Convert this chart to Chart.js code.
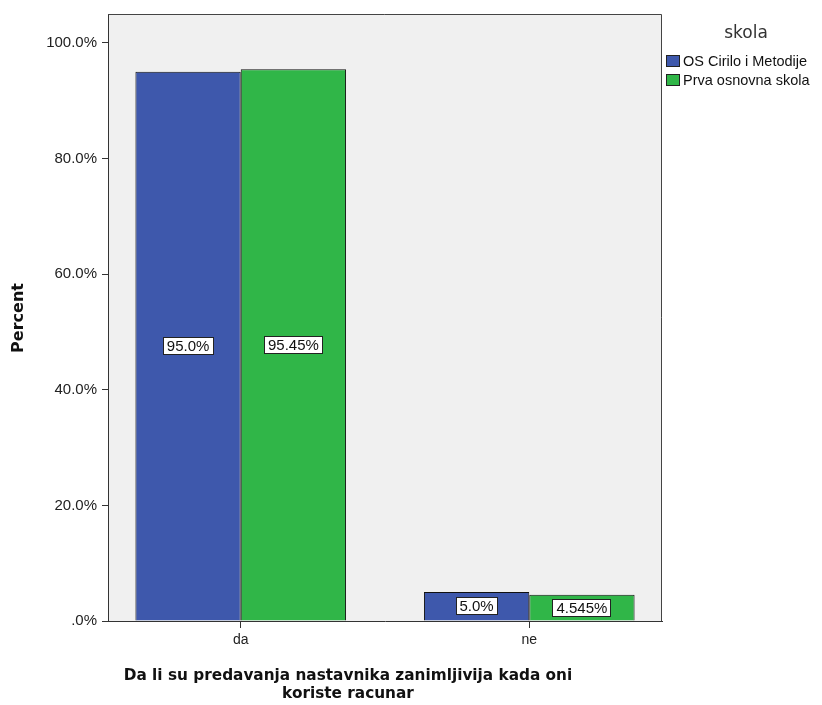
<!DOCTYPE html>
<html>
<head>
<meta charset="utf-8">
<title>skola</title>
<script src="https://cdn.jsdelivr.net/npm/chart.js@4"></script>
<style>
  body { margin: 0; background: #fff; }
  canvas { display: block; }
</style>
</head>
<body>
<canvas id="grafikCanvas" width="822" height="705"></canvas>
<script>
const odgovori = ['da', 'ne'];
const skole = ['OS Cirilo i Metodije', 'Prva osnovna skola'];
const procentiCirilo = [95.0, 5.0];
const procentiPrva = [95.45, 4.545];
const yTicks = [0, 20, 40, 60, 80, 100];

const boje = ['#3e58ac', '#30b648'];
const fontTekst = '"Liberation Sans", Arial, sans-serif';
const fontNaslov = '"DejaVu Sans", Verdana, sans-serif';

function formatProcenat(v) {
  return (Number.isInteger(v) ? v.toFixed(1) : String(v)) + '%';
}

// sivi okvir oko grafika
const okvir = {
  id: 'okvir',
  beforeDraw(chart) {
    const { ctx, chartArea: a } = chart;
    ctx.save();
    ctx.fillStyle = '#f0f0f0';
    ctx.fillRect(a.left, a.top, a.right - a.left, a.bottom - a.top);
    ctx.restore();
  },
  afterDraw(chart) {
    const { ctx, chartArea: a } = chart;
    ctx.save();
    ctx.strokeStyle = '#444';
    ctx.lineWidth = 1;
    ctx.beginPath();
    ctx.moveTo(a.left, a.top + 0.5);
    ctx.lineTo(a.right - 0.5, a.top + 0.5);
    ctx.lineTo(a.right - 0.5, a.bottom);
    ctx.stroke();
    ctx.restore();
  }
};

// procenti u belim kutijama na sredini stubova
const oznakeStubova = {
  id: 'oznakeStubova',
  afterDatasetsDraw(chart) {
    const ctx = chart.ctx;
    ctx.save();
    ctx.font = '15px ' + fontTekst;
    ctx.textAlign = 'center';
    ctx.textBaseline = 'middle';
    chart.data.datasets.forEach((ds, di) => {
      chart.getDatasetMeta(di).data.forEach((bar, i) => {
        const tekst = formatProcenat(ds.data[i].y);
        const x = bar.x;
        const y = (bar.y + bar.base) / 2;
        const w = ctx.measureText(tekst).width + 8;
        const h = 18;
        ctx.fillStyle = '#fff';
        ctx.fillRect(Math.round(x - w / 2), Math.round(y - h / 2), Math.round(w), h);
        ctx.strokeStyle = '#222';
        ctx.lineWidth = 1;
        ctx.strokeRect(Math.round(x - w / 2) + 0.5, Math.round(y - h / 2) + 0.5, Math.round(w) - 1, h - 1);
        ctx.fillStyle = '#111';
        ctx.fillText(tekst, x, y + 1);
      });
    });
    ctx.restore();
  }
};

// naslovi osa i legenda
const nasloviLegenda = {
  id: 'nasloviLegenda',
  afterDraw(chart) {
    const ctx = chart.ctx;
    ctx.save();
    ctx.fillStyle = '#111';
    ctx.textAlign = 'center';
    ctx.textBaseline = 'middle';

    ctx.font = 'bold 16px ' + fontNaslov;
    ctx.save();
    ctx.translate(19, 318);
    ctx.rotate(-Math.PI / 2);
    ctx.fillText('Percent', 0, 0);
    ctx.restore();

    ctx.font = 'bold 15.3px ' + fontNaslov;
    ctx.fillText('Da li su predavanja nastavnika zanimljivija kada oni', 348, 676);
    ctx.fillText('koriste racunar', 348, 694);

    ctx.font = '17px ' + fontNaslov;
    ctx.fillStyle = '#333';
    ctx.fillText('skola', 746, 34);

    ctx.font = '14.5px ' + fontTekst;
    ctx.textAlign = 'left';
    chart.data.datasets.forEach((ds, i) => {
      const y = 55 + i * 19;
      ctx.fillStyle = ds.backgroundColor;
      ctx.fillRect(666, y, 14, 12);
      ctx.strokeStyle = '#222';
      ctx.strokeRect(666.5, y + 0.5, 13, 11);
      ctx.fillStyle = '#111';
      ctx.fillText(ds.label, 683, y + 6.5);
    });
    ctx.restore();
  }
};

const podaci = {
  datasets: [procentiCirilo, procentiPrva].map((niz, i) => ({
    label: skole[i],
    data: niz.map((v, j) => ({ x: j, y: v })),
    backgroundColor: boje[i],
    borderColor: '#111',
    borderWidth: 1
  }))
};

const config = {
  type: 'bar',
  data: podaci,
  options: {
    responsive: false,
    animation: false,
    devicePixelRatio: 1,
    layout: { padding: { top: 13, right: 160, left: 0, bottom: 0 } },
    datasets: {
      bar: { categoryPercentage: 0.73, barPercentage: 1 }
    },
    plugins: {
      legend: { display: false },
      tooltip: { enabled: false }
    },
    scales: {
      x: {
        type: 'linear',
        min: -0.46,
        max: 1.46,
        offset: false,
        afterBuildTicks: s => { s.ticks = odgovori.map((_, i) => ({ value: i })); },
        afterFit: s => { s.height = 84; },
        ticks: {
          callback: v => odgovori[v],
          font: { family: fontTekst, size: 14 },
          color: '#222',
          padding: 4,
          maxRotation: 0
        },
        grid: { offset: false, drawOnChartArea: false, tickLength: 7, color: '#333' },
        border: { color: '#333' }
      },
      y: {
        min: 0,
        max: 105,
        afterBuildTicks: s => { s.ticks = yTicks.map(v => ({ value: v })); },
        afterFit: s => { s.width = 108; },
        ticks: {
          callback: v => v === 0 ? '.0%' : v.toFixed(1) + '%',
          font: { family: fontTekst, size: 15 },
          color: '#222',
          padding: 5
        },
        grid: { drawOnChartArea: false, tickLength: 6, color: '#333' },
        border: { color: '#333' }
      }
    }
  },
  plugins: [okvir, oznakeStubova, nasloviLegenda]
};

const ctx = document.getElementById('grafikCanvas').getContext('2d');
new Chart(ctx, config);
</script>
</body>
</html>
